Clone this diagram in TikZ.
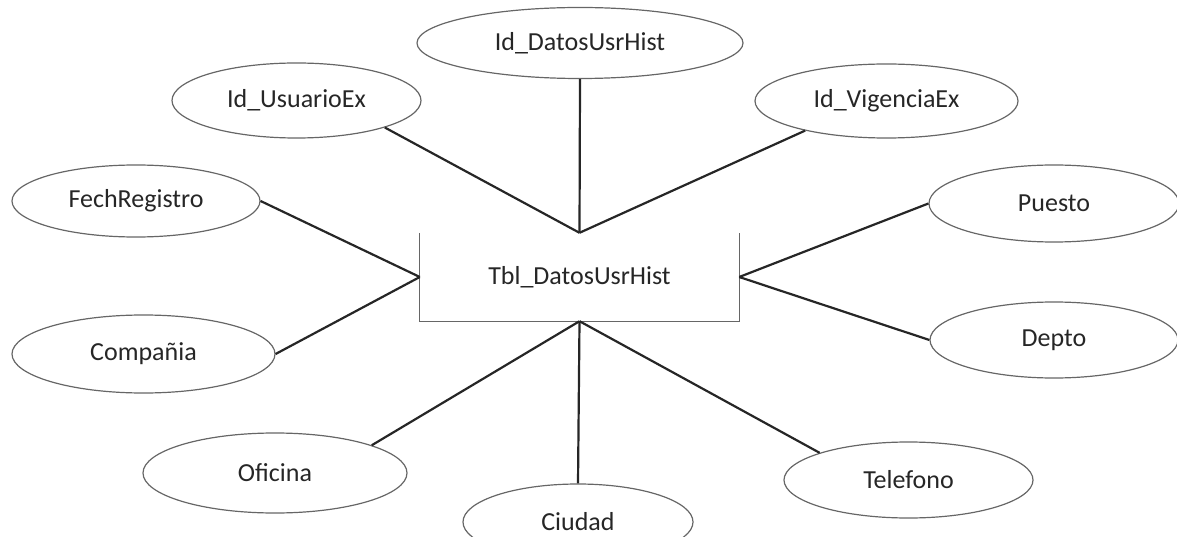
\documentclass[tikz,border=0pt]{standalone}
\usepackage{fontspec}
\setmainfont{Carlito}
\usetikzlibrary{shapes.geometric}
\begin{document}
\begin{tikzpicture}[x=1pt,y=-1pt,
  lbl/.style={font=\fontsize{26}{31}\selectfont, text=black!85},
  attr/.style={lbl, ellipse, draw=black!60, line width=1.2pt, inner sep=0pt},
  link/.style={draw=black!85, line width=2.2pt},
  tblside/.style={draw=black!60, line width=1.3pt}]
\useasboundingbox (0,0) rectangle (1177,537);

% entity (open on top)
\node[lbl, inner sep=0pt, minimum width=319pt, minimum height=88pt] (tbl) at (579.5,277) {Tbl\_DatosUsrHist};
\draw[tblside] (tbl.north west) -- (tbl.south west) -- (tbl.south east) -- (tbl.north east);

% attributes
\node[attr, minimum width=249pt, minimum height=75pt] (usr)    at (296.5,100.5) {Id\_UsuarioEx};
\node[attr, minimum width=326pt, minimum height=71pt] (datos)  at (580,43)      {Id\_DatosUsrHist};
\node[attr, minimum width=263pt, minimum height=74pt] (vig)    at (886.5,101)   {Id\_VigenciaEx};
\node[attr, minimum width=248pt, minimum height=72pt] (fech)   at (136,201)     {FechRegistro};
\node[attr, minimum width=263pt, minimum height=78pt] (comp)   at (143.5,354)   {Compañia};
\node[attr, minimum width=250pt, minimum height=77pt] (puesto) at (1054,203.5)  {Puesto};
\node[attr, minimum width=248pt, minimum height=76pt] (depto)  at (1054,340)    {Depto};
\node[attr, minimum width=264pt, minimum height=80pt] (ofi)    at (275,473)     {Oficina};
\node[attr, minimum width=230pt, minimum height=76pt] (ciu)    at (578,522)     {Ciudad};
\node[attr, minimum width=249pt, minimum height=76pt] (tel)    at (908.5,480)   {Telefono};

% connectors
\draw[link] (tbl.north) -- (usr.-17);
\draw[link] (tbl.north) -- (datos.south);
\draw[link] (tbl.north) -- (vig.200);
\draw[link] (tbl.west)  -- (fech.east);
\draw[link] (tbl.west)  -- (comp.east);
\draw[link] (tbl.east)  -- (puesto.west);
\draw[link] (tbl.east)  -- (depto.west);
\draw[link] (tbl.south) -- (ofi.16);
\draw[link] (tbl.south) -- (ciu.north);
\draw[link] (tbl.south) -- (tel.163);
\end{tikzpicture}
\end{document}
